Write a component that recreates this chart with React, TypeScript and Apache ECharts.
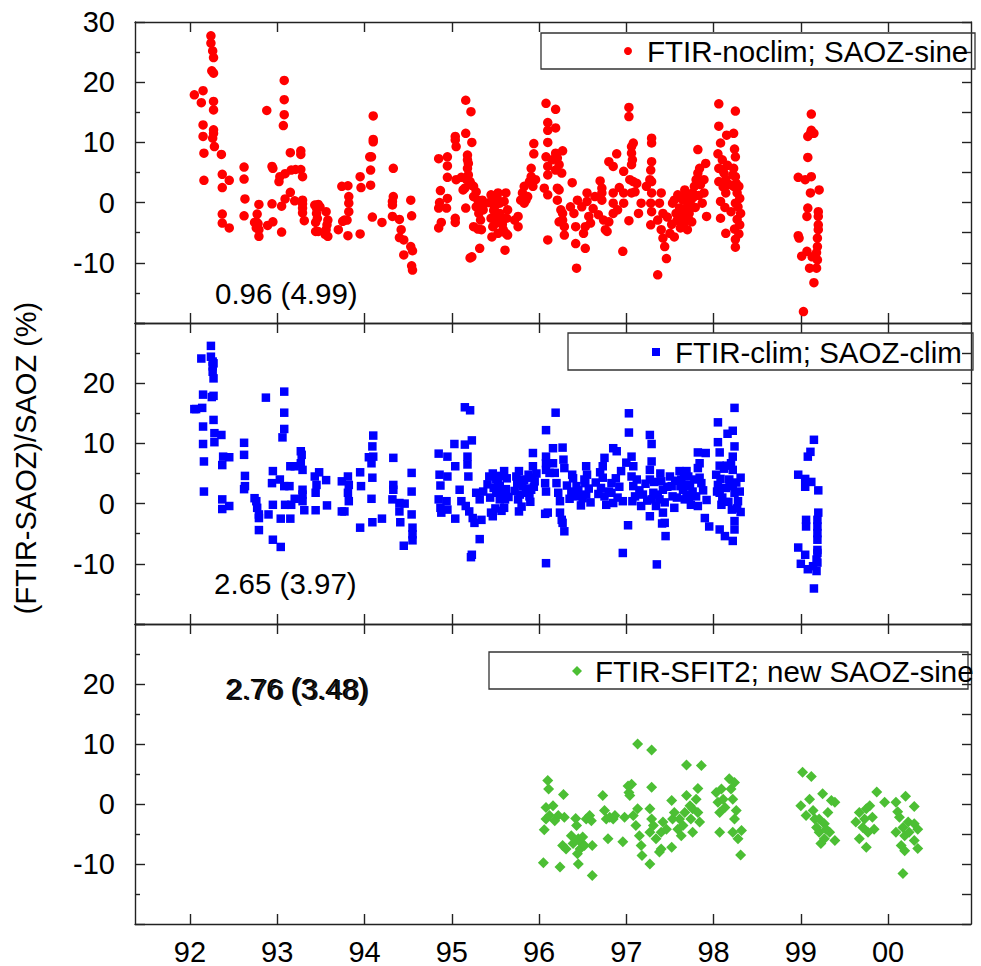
import React, { useEffect, useRef } from "react";
import * as echarts from "echarts";

const FONT = "'Liberation Sans', Arial, Helvetica, sans-serif";

const yearTicks = [92, 93, 94, 95, 96, 97, 98, 99, 100];
const yearLabels = ["92", "93", "94", "95", "96", "97", "98", "99", "00"];
const X_MIN = 91.37;
const X_MAX = 100.95;
const Y_MIN = -20;
const Y_MAX = 30;

const seriesNames = ["FTIR-noclim; SAOZ-sine", "FTIR-clim; SAOZ-clim", "FTIR-SFIT2; new SAOZ-sine"];
const annotations = ["0.96 (4.99)", "2.65 (3.97)", "2.76 (3.48)"];
const yAxisTitle = "(FTIR-SAOZ)/SAOZ (%)";

const noclimSine: number[][] = [
  [92.05,17.9],[92.15,18.6],[92.13,16.6],[92.15,12.9],[92.15,11.0],[92.16,8.2],[92.16,3.7],
  [92.24,27.7],[92.24,26.5],[92.26,25.2],[92.27,24.1],[92.25,21.9],[92.27,21.5],[92.27,16.8],[92.27,15.4],[92.27,12.1],[92.27,11.5],[92.26,10.7],[92.28,9.3],
  [92.36,8.0],[92.37,4.7],[92.37,2.5],[92.37,-1.9],[92.37,-3.4],[92.45,3.7],[92.45,-4.2],
  [92.62,5.9],[92.62,3.9],[92.63,0.6],[92.62,-2.2],
  [92.79,-0.3],[92.77,-1.9],[92.76,-3.2],[92.78,-3.5],[92.76,-4.2],[92.79,-4.5],[92.79,-5.6],[92.74,-3.3],
  [92.88,15.3],[92.89,-3.8],[92.95,-3.2],[92.94,-0.2],[92.94,6.0],[92.95,5.7],
  [93.03,4.3],[93.02,3.5],[93.05,-0.6],[93.05,-4.9],
  [93.08,20.3],[93.08,17.1],[93.08,14.6],[93.07,12.8],[93.09,4.8],[93.09,0.6],
  [93.15,8.3],[93.15,1.7],[93.16,5.4],[93.21,5.5],[93.20,0.3],
  [93.27,8.6],[93.27,8.0],[93.27,5.5],[93.29,4.3],[93.29,0.4],[93.29,-0.2],[93.29,-0.9],[93.29,-1.7],[93.31,-3.0],
  [93.43,-0.4],[93.45,-0.9],[93.47,-0.3],[93.45,-1.8],[93.44,-3.3],[93.46,-2.6],[93.47,-4.8],[93.44,-4.8],[93.49,-0.7],
  [93.56,-1.5],[93.58,-2.9],[93.57,-3.7],[93.56,-4.5],[93.58,-5.6],[93.55,-5.3],
  [93.70,-4.5],[93.74,2.7],[93.81,2.8],[93.82,1.0],[93.82,-0.1],[93.82,-1.5],[93.80,-2.9],[93.77,-2.9],[93.75,-3.1],[93.81,-5.5],
  [93.95,4.3],[93.96,2.5],[93.95,-5.2],
  [94.06,7.6],[94.08,7.6],[94.07,5.4],[94.07,2.9],[94.10,10.1],[94.10,10.5],[94.10,14.4],[94.09,-2.4],
  [94.20,-3.3],
  [94.33,5.7],[94.33,1.0],[94.32,0.2],[94.32,-0.4],[94.32,-2.3],
  [94.40,-2.8],[94.42,-4.5],[94.40,-5.8],[94.45,-6.2],[94.45,-8.7],
  [94.53,0.4],[94.54,-2.2],[94.53,-7.3],[94.55,-8.0],[94.54,-10.5],[94.55,-11.2],
  [94.85,7.3],[94.87,2.0],[94.86,0.0],[94.85,-0.9],[94.88,-3.3],[94.85,-4.2],
  [94.95,7.6],[94.95,6.1],[94.95,4.2],[94.95,0.7],[94.94,-0.9],
  [95.04,11.0],[95.04,10.4],[95.05,9.3],[95.04,-2.6],[95.04,-3.3],
  [95.16,17.0],[95.22,15.1],[95.16,11.5],[95.23,10.0],[95.05,3.8],[95.11,4.2],[95.13,2.1],[95.15,2.4],
  [95.18,7.9],[95.18,7.1],[95.19,6.5],[95.18,5.7],[95.19,4.6],
  [95.17,3.8],[95.21,3.5],[95.23,2.9],[95.25,2.7],[95.28,1.8],[95.25,1.0],[95.30,0.4],[95.32,-0.1],[95.28,-0.7],[95.31,-1.8],[95.33,-2.9],[95.30,-4.4],[95.34,-4.5],[95.25,-4.0],
  [95.16,-0.9],[95.23,-9.0],[95.21,-9.2],[95.32,-7.6],[95.35,0.4],[95.36,-0.4],[95.36,-1.2],
  [95.45,1.3],[95.47,0.4],[95.49,-0.7],[95.51,-1.8],[95.45,-2.6],[95.47,-4.0],[95.46,-5.7],[95.53,1.6],[95.55,-0.1],[95.55,-1.8],[95.57,-2.9],[95.59,-4.5],[95.62,-5.1],[95.62,1.6],[95.64,-1.2],[95.61,-7.9],[95.64,-5.4],[95.51,-3.4],[95.53,-5.1],
  [95.43,0.0],[95.48,-1.3],[95.50,-3.0],[95.52,0.8],[95.56,-2.2],[95.58,-3.6],[95.60,0.2],[95.63,-2.6],
  [95.72,-2.9],[95.76,-2.3],[95.76,-4.0],[95.79,0.4],[95.81,1.6],[95.83,2.7],[95.83,-0.1],[95.85,0.4],[95.87,1.0],[95.89,3.5],[95.91,5.7],[95.91,4.3],[95.93,2.7],[95.94,8.1],[95.94,9.8],[95.96,3.8],
  [96.08,16.5],[96.19,15.5],[96.10,13.3],[96.10,12.0],[96.10,10.0],[96.08,7.6],[96.10,6.0],[96.10,4.6],[96.06,2.4],[96.10,1.3],[96.10,-6.2],[96.19,12.4],[96.19,8.2],[96.21,7.4],[96.15,7.1],[96.19,5.4],[96.23,6.3],[96.26,4.9],[96.21,2.4],[96.23,2.1],[96.21,0.4],[96.25,-1.2],[96.27,-1.8],[96.27,-2.9],[96.29,-4.0],[96.29,-5.4],[96.23,-3.2],
  [96.27,8.6],[96.38,3.3],[96.36,-0.7],[96.40,-1.8],[96.42,-4.0],[96.42,-6.8],[96.43,-10.9],
  [96.44,0.4],[96.49,-0.7],[96.51,-5.1],[96.53,-7.6],[96.55,1.6],[96.55,0.2],[96.57,-2.3],[96.59,-3.4],[96.53,-4.0],
  [96.62,-1.0],[96.64,1.0],[96.68,-2.0],[96.70,3.6],
  [96.72,2.4],[96.72,1.6],[96.72,0.4],[96.74,-2.9],[96.76,-4.5],[96.78,-4.8],[96.80,6.8],[96.85,6.0],[96.85,1.6],[96.85,-0.1],[96.85,-1.8],[96.80,-3.2],
  [96.89,8.1],[96.90,-1.2],[96.92,2.5],[96.96,-8.1],[96.97,5.2],[96.97,1.6],[96.97,-0.1],
  [97.03,15.8],[97.03,14.3],[97.03,-3.0],
  [97.06,9.3],[97.08,9.9],[97.06,8.2],[97.07,7.1],[97.06,6.3],[97.04,3.8],[97.08,3.5],[97.10,1.8],[97.12,3.2],[97.06,1.6],
  [97.14,-1.8],[97.17,-0.1],
  [97.23,2.7],[97.27,3.8],[97.29,10.7],[97.29,9.9],[97.29,6.8],[97.28,5.4],[97.29,3.5],[97.29,1.6],[97.28,-0.1],[97.29,-1.5],[97.28,-3.7],
  [97.36,-2.9],[97.36,-12.0],[97.38,-0.1],[97.40,1.6],[97.42,-1.8],[97.40,-4.5],[97.44,-7.3],[97.46,-9.3],[97.42,-5.9],[97.50,-5.1],[97.53,-0.1],[97.55,0.4],[97.57,-1.8],[97.55,-5.7],
  [97.47,-2.4],[97.52,-3.6],[97.58,-3.0],[97.60,0.9],[97.62,-4.2],[97.64,-1.2],[97.66,-3.5],[97.68,1.2],[97.71,-2.6],[97.73,-1.0],[97.75,-3.2],[97.77,0.9],[97.79,-0.8],[97.83,1.2],[97.85,3.0],
  [97.59,1.3],[97.61,-0.9],[97.63,-2.3],[97.65,0.4],[97.67,2.1],[97.67,-2.9],[97.70,-4.5],[97.70,-0.7],[97.72,-1.8],[97.74,0.4],[97.76,1.6],[97.78,2.7],[97.80,3.8],[97.82,4.9],[97.82,8.8],[97.84,5.7],[97.87,-0.1],[97.89,1.6],[97.91,6.5],[97.92,-2.3],[97.89,3.8],[97.70,1.0],
  [98.06,16.4],[98.06,12.7],[98.08,9.9],[98.05,8.1],[98.06,5.7],[98.06,3.5],[98.08,0.2],[98.08,-2.6],[98.10,7.1],[98.12,4.9],[98.14,3.8],[98.14,1.6],[98.14,-5.1],
  [98.09,5.5],[98.11,2.6],[98.13,-0.8],[98.16,6.2],[98.18,3.0],[98.20,-1.5],[98.22,4.6],[98.26,3.2],[98.27,-2.8],[98.29,-5.2],
  [98.25,15.2],[98.15,11.2],[98.23,11.5],[98.24,8.9],[98.25,7.6],[98.23,5.7],[98.25,4.3],[98.23,2.7],[98.27,1.6],[98.25,-0.1],[98.24,-4.4],[98.25,-6.1],[98.25,-7.4],[98.29,2.7],[98.30,0.7],[98.31,-1.8],[98.30,-3.7],[98.28,-0.7],
  [98.97,4.2],[98.97,-5.5],[98.98,-5.9],[99.01,-8.9],[99.03,-18.1],[99.05,3.8],[99.07,-8.1],[99.07,-2.3],[99.08,-0.9],[99.08,7.5],[99.08,11.0],[99.11,11.5],[99.12,14.7],[99.12,4.3],[99.11,1.6],[99.10,-10.9],[99.12,12.0],[99.15,11.5],[99.15,-13.3],[99.18,-10.9],[99.19,-9.5],[99.19,-7.3],[99.19,-5.9],[99.20,-4.5],[99.20,-3.7],[99.20,-2.3],[99.20,-1.5],[99.21,2.1],[99.18,-8.3],[99.13,-9.0]
];

const climClim: number[][] = [
  [92.05,15.7],[92.07,15.7],[92.13,24.1],[92.14,15.9],[92.15,18.1],[92.15,12.8],[92.15,9.9],[92.16,7.0],[92.16,2.0],
  [92.24,26.2],[92.24,24.4],[92.26,23.6],[92.26,22.8],[92.27,23.3],[92.26,21.9],[92.27,20.8],[92.25,17.7],[92.27,17.9],[92.27,13.9],[92.28,11.7],[92.28,10.2],[92.36,11.4],[92.38,7.8],[92.37,6.4],[92.37,0.7],[92.37,-0.9],[92.45,7.7],[92.45,-0.4],
  [92.62,10.1],[92.62,8.1],[92.63,4.6],[92.63,2.9],[92.62,2.4],
  [92.74,0.9],[92.76,0.4],[92.77,-0.7],[92.79,-2.4],[92.79,-4.4],[92.79,-1.8],
  [92.87,17.6],[92.90,-1.8],[92.95,5.4],[92.94,3.4],[92.95,-0.2],[92.95,-6.0],[93.04,-7.2],[93.03,4.0],[93.04,-2.5],
  [93.08,18.6],[93.08,15.1],[93.08,12.4],[93.06,11.0],[93.08,2.9],[93.09,-0.2],[93.15,6.2],[93.14,2.9],[93.15,-2.5],[93.16,-0.2],[93.20,6.2],[93.20,0.8],
  [93.27,8.7],[93.28,8.1],[93.27,6.7],[93.29,5.6],[93.29,2.3],[93.29,1.5],[93.29,0.4],[93.31,-1.1],
  [93.43,4.5],[93.45,3.1],[93.44,1.8],[93.48,5.2],[93.44,-1.1],[93.56,3.9],[93.57,-0.3],
  [93.74,3.7],[93.74,-1.3],[93.77,-1.3],[93.81,4.5],[93.82,3.1],[93.81,1.8],[93.82,0.4],
  [93.95,5.2],[93.96,2.9],[93.95,-4.0],
  [94.05,7.7],[94.09,9.5],[94.10,11.3],[94.08,6.7],[94.09,4.3],[94.08,0.8],[94.09,-3.1],[94.10,7.8],
  [94.20,-2.5],
  [94.33,7.6],[94.33,3.1],[94.33,2.3],[94.32,0.7],[94.40,0.1],[94.40,-1.3],[94.41,-3.1],[94.45,-7.0],[94.46,0.0],
  [94.54,5.1],[94.54,2.0],[94.54,-1.8],[94.55,-4.0],[94.55,-5.1],[94.55,-6.1],
  [94.85,8.3],[94.86,4.8],[94.87,3.0],[94.85,0.7],[94.87,-0.7],[94.88,-1.5],[94.94,0.4],[94.95,7.8],[94.95,4.5],[94.95,-1.0],[95.03,9.9],[95.04,6.2],[95.04,-2.5],
  [95.15,16.0],[95.21,15.5],[95.15,9.8],[95.23,10.5],[95.18,7.8],[95.18,6.5],[95.19,4.5],[95.09,2.3],[95.11,0.4],[95.16,-0.4],[95.20,-1.3],[95.24,-2.4],[95.26,-3.2],[95.22,-8.9],[95.23,-8.5],[95.32,-5.9],[95.34,-2.7],[95.28,1.8],[95.32,0.7],[95.36,2.0],
  [95.45,-1.5],[95.47,-2.1],[95.43,4.5],[95.47,5.0],[95.51,4.0],[95.55,2.9],[95.58,1.8],[95.51,1.8],[95.60,5.4],[95.61,0.7],[95.55,0.7],[95.60,-0.7],
  [95.41,3.2],[95.44,1.0],[95.48,2.6],[95.50,-0.8],[95.53,3.6],[95.56,4.6],[95.57,-1.2],[95.62,2.4],[95.63,4.2],[95.65,1.1],
  [95.74,4.5],[95.77,5.4],[95.79,4.0],[95.81,2.9],[95.76,0.7],[95.77,-1.3],[95.85,1.8],[95.89,1.2],[95.92,4.3],[95.93,6.2],[95.93,8.4],[95.95,3.7],[95.91,2.3],
  [95.72,2.1],[95.75,3.3],[95.78,1.5],[95.80,-0.5],[95.83,3.9],[95.86,2.5],[95.88,4.8],[95.90,0.3],[95.94,2.8],[95.97,5.0],
  [96.08,12.2],[96.08,7.8],[96.08,6.7],[96.08,5.6],[96.07,3.4],[96.08,2.0],[96.07,-1.7],[96.08,-9.9],
  [96.19,15.1],[96.16,9.2],[96.27,9.3],[96.28,7.3],[96.29,5.9],[96.16,6.7],[96.18,5.1],[96.20,3.4],[96.22,1.8],[96.24,0.4],[96.24,-1.5],[96.26,-2.7],[96.27,-3.2],[96.29,-4.6],[96.12,5.1],[96.10,-1.5],
  [96.38,4.8],[96.43,2.9],[96.37,1.8],[96.41,2.0],[96.48,-0.3],[96.54,6.2],[96.55,4.8],[96.53,3.4],[96.54,1.5],
  [96.32,3.0],[96.35,0.8],[96.39,4.2],[96.42,1.2],[96.45,2.2],[96.50,0.9],[96.52,4.0],[96.57,2.5],[96.59,0.2],
  [96.65,3.5],[96.68,1.6],[96.70,5.2],[96.80,2.0],[96.88,4.2],[96.90,1.0],[96.92,2.8],
  [96.75,7.6],[96.73,6.2],[96.73,4.3],[96.71,2.6],[96.75,1.2],[96.77,-0.2],[96.85,9.2],[96.89,8.7],[96.83,3.4],[96.83,1.8],[96.85,0.1],
  [96.94,5.4],[96.96,0.4],[97.03,15.0],[97.03,11.8],[97.00,6.8],[97.06,7.8],[97.08,6.2],[97.06,4.5],[97.08,2.9],[97.10,1.2],[97.07,0.4],[97.02,-3.6],[96.96,-8.2],
  [97.19,1.5],[97.17,-0.4],[97.27,11.4],[97.29,9.9],[97.29,7.0],[97.27,5.6],[97.27,4.0],[97.31,1.8],[97.29,0.7],[97.27,-2.1],[97.34,-0.4],[97.38,0.7],[97.40,3.7],[97.42,2.3],[97.41,-3.3],[97.45,-5.4],[97.44,-3.2],[97.35,-10.1],[97.42,-1.5],
  [97.12,4.0],[97.15,2.2],[97.22,3.3],[97.24,0.5],[97.32,3.6],[97.36,1.5],[97.39,5.0],[97.44,0.2],[97.47,2.8],
  [97.50,4.5],[97.52,2.9],[97.53,1.2],[97.55,-0.7],[97.61,5.4],[97.63,4.0],[97.65,2.3],[97.67,0.7],[97.69,5.4],[97.71,4.5],[97.73,2.9],[97.69,1.5],[97.74,-0.2],
  [97.56,3.8],[97.58,1.0],[97.62,2.9],[97.66,4.6],[97.70,3.1],[97.72,0.8],[97.76,2.0],[97.78,4.0],[97.88,2.2],[97.92,0.6],
  [97.82,8.5],[97.91,8.4],[97.84,6.7],[97.82,5.9],[97.86,3.4],[97.80,1.2],[97.82,-0.4],[97.90,-2.4],[97.95,-3.8],[97.84,4.3],
  [98.05,13.5],[98.05,10.2],[98.07,8.5],[98.07,6.3],[98.03,4.8],[98.05,3.1],[98.07,1.8],[98.09,-0.2],[98.07,-4.3],[98.13,-5.4],
  [98.04,2.0],[98.08,4.1],[98.10,1.0],[98.12,5.8],[98.14,2.6],[98.17,0.3],[98.19,3.3],[98.21,-1.0],[98.26,3.5],[98.27,-0.8],
  [98.24,15.9],[98.22,12.1],[98.16,11.6],[98.24,9.5],[98.22,7.8],[98.20,6.7],[98.22,5.6],[98.18,4.0],[98.22,2.9],[98.24,1.8],[98.30,2.0],[98.31,4.3],[98.28,0.4],[98.31,-1.4],[98.24,-2.9],[98.24,-4.3],[98.22,-6.2],[98.15,6.3],
  [98.97,4.8],[99.05,4.1],[99.05,2.8],[99.12,3.6],[99.20,2.2],[99.08,7.8],[99.11,8.6],[99.15,10.6],[98.97,-7.3],[99.00,-10.0],[99.05,-8.5],[99.06,-2.7],[99.06,-3.8],[99.08,-10.9],[99.14,-10.4],[99.15,-14.1],[99.18,-9.3],[99.19,-8.2],[99.19,-7.7],[99.19,-6.0],[99.19,-4.9],[99.19,-3.8],[99.19,-2.7],[99.20,-1.5],[99.19,-9.8],[99.18,-11.2]
];

const sfit2Sine: number[][] = [
  [96.05,-9.8],[96.06,-4.3],[96.08,-2.5],[96.10,3.9],[96.11,2.5],[96.08,-0.6],[96.12,-1.9],[96.16,-0.3],[96.18,-2.8],[96.22,-1.9],[96.24,-10.5],[96.28,1.6],[96.29,-2.2],[96.27,-6.9],[96.31,-7.5],
  [96.37,-5.3],[96.42,-2.4],[96.43,-3.6],[96.39,-6.6],[96.45,-5.8],[96.47,-7.5],[96.45,-10.0],[96.48,-6.4],[96.50,-5.5],[96.52,-6.9],[96.44,-8.3],[96.54,-2.5],[96.58,-1.9],[96.60,-2.8],[96.61,-6.9],[96.61,-11.9],
  [96.73,1.4],[96.75,-1.1],[96.77,-2.5],[96.79,-5.8],[96.81,-2.2],[96.85,-2.5],[96.87,-1.9],
  [96.96,-6.3],[96.98,-2.2],[97.02,3.0],[97.03,1.9],[97.06,3.3],[97.04,1.4],[97.08,-1.9],[97.11,-3.6],[97.13,-0.8],[97.15,-5.3],[97.17,-6.9],[97.18,-8.6],[97.13,10.0],[97.29,9.0],[97.29,2.8],[97.27,-0.8],[97.29,-2.5],[97.27,-4.7],[97.27,-10.0],[97.31,-3.6],[97.34,-5.8],[97.38,-8.0],[97.40,-7.5],[97.42,-3.0],[97.40,-4.7],[97.46,-4.2],
  [97.52,0.6],[97.53,-2.5],[97.52,-7.2],[97.55,-1.4],[97.59,-4.2],[97.61,-2.5],[97.63,-5.3],[97.65,-3.6],[97.67,-1.4],[97.69,1.4],[97.69,6.5],[97.73,-0.3],[97.74,-2.5],[97.76,-0.8],[97.80,0.8],[97.82,2.6],[97.82,-1.4],[97.84,-3.0],[97.86,6.4],[97.76,-4.7],
  [98.03,1.9],[98.05,0.3],[98.07,-1.4],[98.07,-4.7],[98.09,2.5],[98.11,0.8],[98.13,-0.6],[98.18,4.2],[98.20,2.5],[98.22,0.8],[98.24,3.6],[98.26,-1.1],[98.24,-2.5],[98.22,-4.7],[98.28,-5.8],[98.32,-4.4],[98.31,-8.5],
  [99.00,-0.3],[99.02,5.3],[99.12,4.6],[99.06,-1.9],[99.10,0.8],[99.14,-1.1],[99.16,-2.5],[99.18,-3.9],[99.21,-4.7],[99.23,-6.6],[99.27,-5.8],[99.25,1.7],[99.31,-1.4],[99.35,0.6],[99.39,0.3],[99.39,-6.1],[99.33,-4.7],[99.21,-2.5],[99.27,-3.3],[99.29,-4.2],
  [99.63,-3.0],[99.67,-1.4],[99.67,-5.8],[99.71,-3.9],[99.75,-7.2],[99.73,-2.5],[99.79,-0.3],[99.82,-2.2],[99.84,-4.2],[99.87,2.0],[99.96,0.3],[99.77,-4.7],[99.75,-0.8],
  [100.09,0.3],[100.11,-1.3],[100.13,-2.2],[100.20,1.3],[100.17,-3.9],[100.19,-5.3],[100.15,-6.9],[100.19,-7.8],[100.17,-11.6],[100.23,-3.0],[100.30,-0.4],[100.30,-3.3],[100.34,-4.2],[100.30,-6.1],[100.34,-7.4],[100.24,-4.7],[100.09,-4.7]
];

const GRID_TOPS = [22, 323, 624];
const GRID_H = 301;
const LINE = { color: "#222", width: 1.4 };

export default function App() {
  const ref = useRef<HTMLDivElement>(null);
  useEffect(() => {
    if (!ref.current) return;
    const chart = echarts.init(ref.current, null, { renderer: "svg" });

    const grids = GRID_TOPS.map((t) => ({ left: 135, right: 10, top: t, height: GRID_H }));
    const xAxes: any[] = [];
    const yAxes: any[] = [];
    GRID_TOPS.forEach((_, i) => {
      ["bottom", "top"].forEach((pos) => {
        xAxes.push({
          type: "value",
          gridIndex: i,
          position: pos,
          min: X_MIN,
          max: X_MAX,
          axisLine: { show: true, onZero: false, lineStyle: LINE },
          axisTick: { show: true, inside: true, length: 10, customValues: yearTicks, lineStyle: LINE },
          axisLabel: {
            show: i === 2 && pos === "bottom",
            customValues: yearTicks,
            formatter: (v: number) => yearLabels[yearTicks.indexOf(Math.round(v))] ?? "",
            fontSize: 29,
            fontFamily: FONT,
            color: "#000",
            margin: 13,
          },
          splitLine: { show: false },
        });
      });
      ["left", "right"].forEach((pos) => {
        yAxes.push({
          type: "value",
          gridIndex: i,
          position: pos,
          min: Y_MIN,
          max: Y_MAX,
          interval: 10,
          axisLine: { show: true, onZero: false, lineStyle: LINE },
          axisTick: { show: true, inside: true, length: pos === "left" ? 10 : 9, lineStyle: LINE },
          minorTick: { show: true, splitNumber: 2, length: pos === "left" ? 5 : 9, lineStyle: LINE },
          axisLabel: {
            show: pos === "left",
            showMinLabel: false,
            showMaxLabel: i === 0,
            fontSize: 29,
            fontFamily: FONT,
            color: "#000",
            margin: 20,
          },
          splitLine: { show: false },
        });
      });
    });

    const legendSpec = [
      { box: [541, 33, 434, 36], mx: 628, my: 51, tx: 647, color: "#ff0000", shape: "circle" },
      { box: [568, 333, 405, 37], mx: 656, my: 352, tx: 675, color: "#0000ff", shape: "rect" },
      { box: [489, 652, 479, 37], mx: 577, my: 671, tx: 595, color: "#4cbf34", shape: "diamond" },
    ];
    const graphics: any[] = [];
    legendSpec.forEach((l, i) => {
      graphics.push({
        type: "rect",
        shape: { x: l.box[0], y: l.box[1], width: l.box[2], height: l.box[3] },
        style: { fill: "rgba(255,255,255,0)", stroke: "#333", lineWidth: 1.3 },
        z: 10,
      });
      if (l.shape === "circle") {
        graphics.push({ type: "circle", shape: { cx: l.mx, cy: l.my, r: 4 }, style: { fill: l.color }, z: 11 });
      } else if (l.shape === "rect") {
        graphics.push({ type: "rect", shape: { x: l.mx - 4, y: l.my - 4, width: 8, height: 8 }, style: { fill: l.color }, z: 11 });
      } else {
        graphics.push({
          type: "polygon",
          shape: { points: [[l.mx, l.my - 5], [l.mx + 5, l.my], [l.mx, l.my + 5], [l.mx - 5, l.my]] },
          style: { fill: l.color },
          z: 11,
        });
      }
      graphics.push({
        type: "text",
        x: l.tx,
        y: l.my,
        style: { text: seriesNames[i], fontSize: 29.5, fontFamily: FONT, fill: "#000", textVerticalAlign: "middle", textAlign: "left" },
        z: 11,
      });
    });
    const annPos = [[215, 293], [214, 583], [225, 688]];
    annotations.forEach((a, i) => {
      graphics.push({
        type: "text",
        x: annPos[i][0],
        y: annPos[i][1],
        style: { text: a, fontSize: 29.5, fontFamily: FONT, fill: "#000", textVerticalAlign: "middle", textAlign: "left" },
        z: 11,
      });
    });
    // the reference shows a second, slightly shifted copy of the bottom annotation
    graphics.push({
      type: "text",
      x: 227,
      y: 689,
      style: { text: annotations[2], fontSize: 29.5, fontFamily: FONT, fill: "#111", textVerticalAlign: "middle", textAlign: "left" },
      z: 11,
    });
    graphics.push({
      type: "text",
      x: 26,
      y: 458,
      rotation: Math.PI / 2,
      style: { text: yAxisTitle, fontSize: 29, fontFamily: FONT, fill: "#000", textVerticalAlign: "middle", textAlign: "center" },
      z: 11,
    });

    chart.setOption({
      animation: false,
      backgroundColor: "#fff",
      grid: grids,
      xAxis: xAxes,
      yAxis: yAxes,
      graphic: graphics,
      series: [
        { name: seriesNames[0], type: "scatter", xAxisIndex: 0, yAxisIndex: 0, data: noclimSine, symbol: "circle", symbolSize: 9.5, itemStyle: { color: "#ff0000", opacity: 1 } },
        { name: seriesNames[1], type: "scatter", xAxisIndex: 2, yAxisIndex: 2, data: climClim, symbol: "rect", symbolSize: 8.5, itemStyle: { color: "#0000ff", opacity: 1 } },
        { name: seriesNames[2], type: "scatter", xAxisIndex: 4, yAxisIndex: 4, data: sfit2Sine, symbol: "diamond", symbolSize: 11, itemStyle: { color: "#4cbf34", opacity: 1 } },
      ],
    });
    return () => chart.dispose();
  }, []);
  return <div ref={ref} style={{ position: "fixed", left: 0, top: 0, width: 981, height: 966 }} />;
}
